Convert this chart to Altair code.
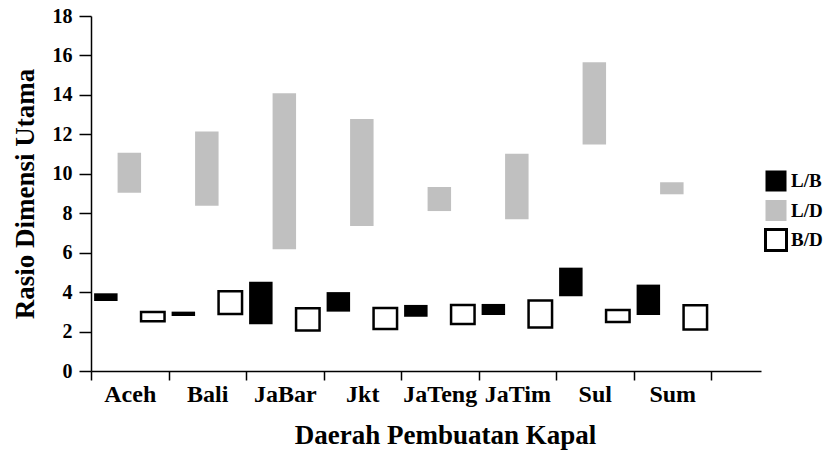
import altair as alt
import pandas as pd

# Ship-building regions and the three principal dimension ratios
regions = ["Aceh", "Bali", "JaBar", "Jkt", "JaTeng", "JaTim", "Sul", "Sum"]
series = ["L/B", "L/D", "B/D"]

# Range (min, max) of each ratio per region
lb_low = [3.55, 2.79, 2.37, 3.01, 2.75, 2.84, 3.79, 2.84]
lb_high = [3.94, 3.01, 4.53, 4.00, 3.35, 3.40, 5.24, 4.38]
ld_low = [9.04, 8.38, 6.17, 7.35, 8.11, 7.69, 11.49, 8.96]
ld_high = [11.07, 12.15, 14.08, 12.78, 9.33, 11.02, 15.65, 9.57]
bd_low = [2.52, 2.89, 2.05, 2.13, 2.38, 2.21, 2.48, 2.10]
bd_high = [2.99, 4.04, 3.18, 3.19, 3.35, 3.58, 3.09, 3.33]

y_ticks = list(range(0, 19, 2))

lows = {"L/B": lb_low, "L/D": ld_low, "B/D": bd_low}
highs = {"L/B": lb_high, "L/D": ld_high, "B/D": bd_high}

rows = []
for i, r in enumerate(regions):
    for k, s in enumerate(series):
        rows.append({"region": r, "idx": i, "k": k, "series": s,
                     "low": lows[s][i], "high": highs[s][i]})
df = pd.DataFrame(rows)

FONT = "Liberation Serif"
label_expr = "[" + ",".join("'" + r + "'" for r in regions) + ",''][datum.value]"

legend = alt.Legend(
    title=None, orient="none", legendX=673, legendY=153,
    symbolType="square", symbolSize=441, symbolStrokeWidth=3,
    labelFont=FONT, labelFontWeight="bold", labelFontSize=19, labelColor="black",
    clipHeight=24, rowPadding=5.5, labelOffset=3, padding=0,
    direction="vertical",
)

chart = alt.Chart(df).transform_calculate(
    x0="datum.idx + 0.04 + datum.k * 0.303",
    x1="datum.idx + 0.04 + (datum.k + 1) * 0.303",
).mark_bar(strokeWidth=2.5, opacity=1).encode(
    x=alt.X("x0:Q",
            scale=alt.Scale(domain=[0, 8.645], nice=False, zero=False),
            axis=alt.Axis(
                values=list(range(9)), grid=False,
                tickSize=9, tickWidth=1.5, tickColor="black",
                domainWidth=1.5, domainColor="black",
                labelExpr=label_expr, labelOffset=38.75, labelAlign="center",
                labelFont=FONT, labelFontWeight="bold", labelFontSize=24,
                labelColor="black", labelPadding=2,
                labelFlush=False, labelOverlap=False,
                title="Daerah Pembuatan Kapal", titleFont=FONT,
                titleFontWeight="bold", titleFontSize=27, titleColor="black",
                titleX=354, titleY=72, titleAlign="center",
                titleBaseline="alphabetic",
            )),
    x2="x1:Q",
    y=alt.Y("low:Q",
            scale=alt.Scale(domain=[0, 18], nice=False),
            axis=alt.Axis(
                values=y_ticks, grid=False,
                tickSize=12, tickWidth=1.5, tickColor="black",
                domainWidth=1.5, domainColor="black",
                labelFont=FONT, labelFontWeight="bold", labelFontSize=20,
                labelColor="black", labelPadding=7,
                title="Rasio Dimensi Utama", titleFont=FONT,
                titleFontWeight="bold", titleFontSize=27, titleColor="black",
                titleAngle=270, titleX=-58, titleY=177.5,
                titleAlign="center", titleBaseline="alphabetic",
            )),
    y2="high:Q",
    fill=alt.Fill("series:N",
                  scale=alt.Scale(domain=series, range=["black", "#c0c0c0", "white"]),
                  legend=legend),
    stroke=alt.Stroke("series:N",
                      scale=alt.Scale(domain=series, range=["transparent", "transparent", "black"]),
                      legend=legend),
).properties(
    width=670, height=355,
    autosize=alt.AutoSizeParams(type="none"),
    padding={"left": 91, "top": 16, "right": 62, "bottom": 81},
    background="white",
).configure_view(stroke=None)

chart.save("out.html", embed_options={"renderer": "svg", "actions": False})
